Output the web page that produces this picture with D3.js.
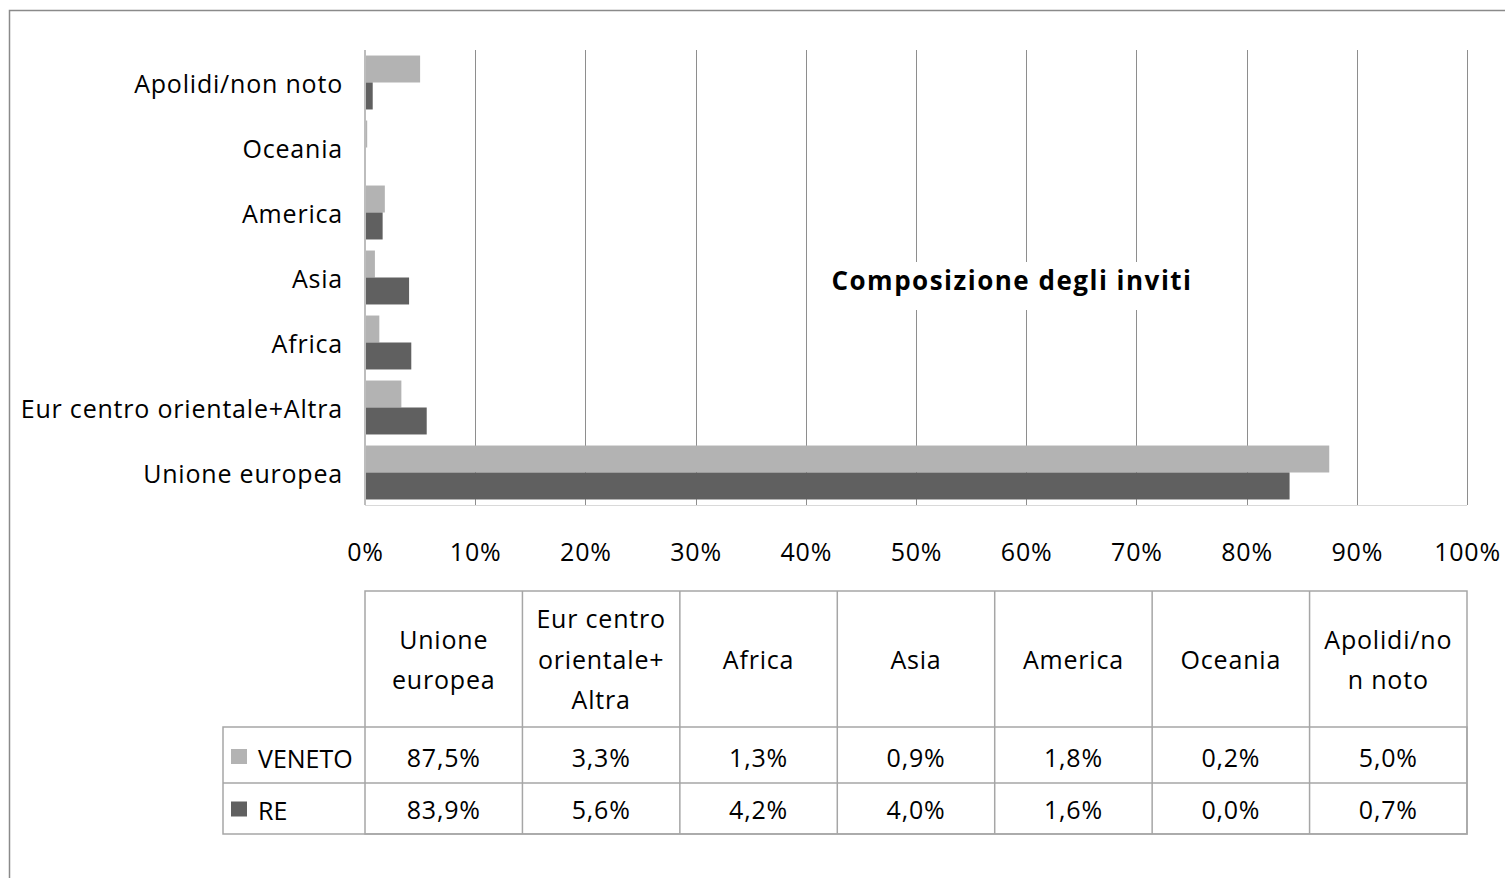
<!DOCTYPE html>
<html>
<head>
<meta charset="utf-8">
<script src="https://cdn.jsdelivr.net/npm/d3@7"></script>
<style>
  html, body { margin: 0; padding: 0; background: #fff; }
  svg { display: block; font-family: "Open Sans", "Noto Sans", sans-serif; letter-spacing: 0.8px; }
</style>
</head>
<body>
<svg id="chart" width="1505" height="878"></svg>
<script>
// Categories (top to bottom in the bar chart)
const categories = ["Apolidi/non noto", "Oceania", "America", "Asia", "Africa", "Eur centro orientale+Altra", "Unione europea"];
// Table column order and header lines
const tableCategories = ["Unione europea", "Eur centro orientale+Altra", "Africa", "Asia", "America", "Oceania", "Apolidi/non noto"];
const tableHeaders = [["Unione", "europea"], ["Eur centro", "orientale+", "Altra"], ["Africa"], ["Asia"], ["America"], ["Oceania"], ["Apolidi/no", "n noto"]];
const seriesNames = ["VENETO", "RE"];
// Shares (%) in table order
const veneto = [87.5, 3.3, 1.3, 0.9, 1.8, 0.2, 5.0];
const re = [83.9, 5.6, 4.2, 4.0, 1.6, 0.0, 0.7];
const tickValues = [0, 10, 20, 30, 40, 50, 60, 70, 80, 90, 100];
const seriesColors = ["#b3b3b3", "#606060"];

const FS = 25;
const svg = d3.select("#chart");
const fmt = v => d3.format(".1f")(v).replace(".", ",") + "%";

// outer frame
svg.append("rect").attr("x", 9.5).attr("y", 10.5).attr("width", 1600).attr("height", 1000)
  .attr("fill", "none").attr("stroke", "#8a8a8a").attr("stroke-width", 1.5);

const x = d3.scaleLinear().domain([0, 100]).range([365, 1467]);
const y = d3.scaleBand().domain(categories).range([50, 505]).paddingInner(0.17).paddingOuter(0.085);
const ySub = d3.scaleBand().domain(seriesNames).range([0, y.bandwidth()]);

const values = {};
tableCategories.forEach((c, i) => { values[c] = { VENETO: veneto[i], RE: re[i] }; });

// gridlines
svg.append("g").selectAll("line").data(tickValues.filter(d => d > 0)).join("line")
  .attr("x1", d => Math.round(x(d)) + 0.5).attr("x2", d => Math.round(x(d)) + 0.5)
  .attr("y1", 50).attr("y2", 505)
  .attr("stroke", "#8e8e8e").attr("stroke-width", 1);

// bars
const groups = svg.append("g").selectAll("g").data(categories).join("g")
  .attr("transform", d => `translate(0,${y(d)})`);
groups.selectAll("rect").data(c => seriesNames.map((s, i) => ({ s, i, v: values[c][s] }))).join("rect")
  .attr("x", x(0)).attr("y", d => ySub(d.s)).attr("height", ySub.bandwidth())
  .attr("width", d => x(d.v) - x(0)).attr("fill", d => seriesColors[d.i]);

// axis lines
svg.append("line").attr("x1", x(0)).attr("x2", x(0)).attr("y1", 50).attr("y2", 505)
  .attr("stroke", "#bdbdbd").attr("stroke-width", 2);
svg.append("line").attr("x1", x(0)).attr("x2", x(100)).attr("y1", 505.5).attr("y2", 505.5)
  .attr("stroke", "#d9d9d9").attr("stroke-width", 1);

// category labels
svg.append("g").selectAll("text").data(categories).join("text")
  .attr("x", 343).attr("y", d => y(d) + y.bandwidth() / 2 + 2)
  .attr("dy", "0.35em").attr("text-anchor", "end")
  .attr("font-size", FS).attr("fill", "#000").text(d => d);

// x tick labels
const xAxis = d3.axisBottom(x).tickValues(tickValues).tickFormat(d => d + "%").tickSize(0).tickPadding(0);
const ax = svg.append("g").attr("transform", "translate(0,543)").call(xAxis);
ax.select(".domain").remove();
ax.selectAll("text").attr("font-size", FS).attr("fill", "#000").attr("font-family", "'Open Sans', sans-serif");

// title with white backing
const title = svg.append("g");
title.append("rect").attr("x", 818).attr("y", 262).attr("width", 388).attr("height", 48).attr("fill", "#fff");
title.append("text").attr("x", 1012).attr("y", 281).attr("dy", "0.35em").attr("text-anchor", "middle")
  .attr("font-size", 26).attr("font-weight", "bold").attr("letter-spacing", "1.5px")
  .attr("fill", "#000").text("Composizione degli inviti");

// data table
const col = d3.scaleBand().domain(tableCategories).range([365, 1467]);
const tTop = 591, hBot = 727, r1Bot = 783, r2Bot = 834, legLeft = 223;
const tg = svg.append("g").attr("stroke", "#a6a6a6").attr("stroke-width", 1.5).attr("fill", "none");
tg.append("rect").attr("x", 365).attr("y", tTop).attr("width", 1467 - 365).attr("height", r2Bot - tTop);
tg.append("rect").attr("x", legLeft).attr("y", hBot).attr("width", 1467 - legLeft).attr("height", r2Bot - hBot);
tg.append("line").attr("x1", legLeft).attr("x2", 1467).attr("y1", r1Bot).attr("y2", r1Bot);
tg.selectAll("line.c").data(tableCategories.slice(1)).join("line").attr("class", "c")
  .attr("x1", d => col(d)).attr("x2", d => col(d)).attr("y1", tTop).attr("y2", r2Bot);

// header texts
const hdr = svg.append("g").selectAll("text").data(tableCategories).join("text")
  .attr("text-anchor", "middle").attr("font-size", FS).attr("fill", "#000");
hdr.each(function (d, i) {
  const lines = tableHeaders[i];
  const cy = (tTop + hBot) / 2 + 1, lh = 40.5;
  d3.select(this).selectAll("tspan").data(lines).join("tspan")
    .attr("x", col(d) + col.bandwidth() / 2)
    .attr("y", (l, j) => cy + (j - (lines.length - 1) / 2) * lh)
    .attr("dy", "0.35em").text(l => l);
});

// value rows
const rows = [veneto, re];
const rowY = [(hBot + r1Bot) / 2 + 3, (r1Bot + r2Bot) / 2 + 2];
rows.forEach((vals, r) => {
  svg.append("g").selectAll("text").data(tableCategories).join("text")
    .attr("x", d => col(d) + col.bandwidth() / 2).attr("y", rowY[r]).attr("dy", "0.35em")
    .attr("text-anchor", "middle").attr("font-size", FS).attr("fill", "#000")
    .text((d, i) => fmt(vals[i]));
  svg.append("rect").attr("x", 231).attr("y", rowY[r] - 9).attr("width", 16).attr("height", 15)
    .attr("fill", seriesColors[r]);
  svg.append("text").attr("x", 258).attr("y", rowY[r] + 1).attr("dy", "0.35em")
    .attr("font-size", FS).attr("letter-spacing", "0px").attr("fill", "#000").text(seriesNames[r]);
});
</script>
</body>
</html>
